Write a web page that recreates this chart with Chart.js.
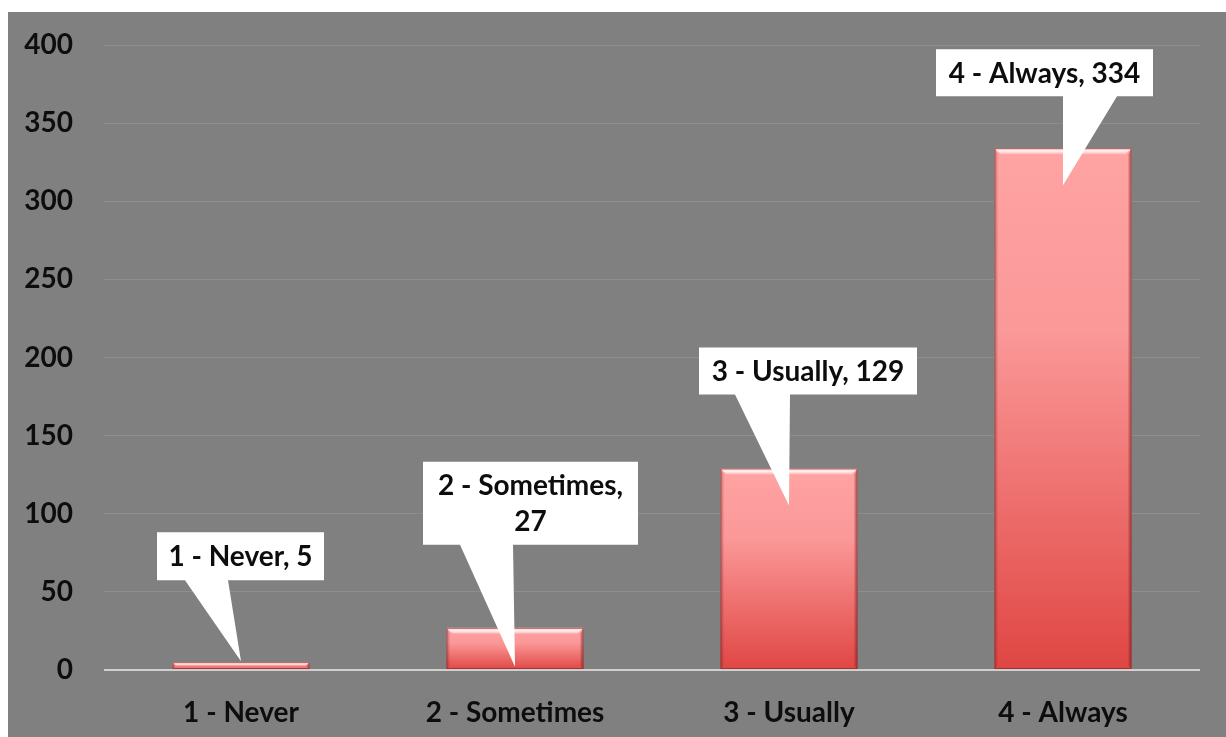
<!DOCTYPE html>
<html>
<head>
<meta charset="utf-8">
<script src="https://cdn.jsdelivr.net/npm/chart.js@4"></script>
<style>
  html, body { margin: 0; padding: 0; background: #ffffff; overflow: hidden; }
  #wrap { position: absolute; left: 8px; top: 12px; width: 1218px; height: 725px; background: #808080; }
</style>
</head>
<body>
<div id="wrap"><canvas id="c"></canvas></div>
<script>
const categories = ["1 - Never", "2 - Sometimes", "3 - Usually", "4 - Always"];
const counts = [5, 27, 129, 334];
const yTicks = [0, 50, 100, 150, 200, 250, 300, 350, 400];
const calloutLines = [
  ["1 - Never, 5"],
  ["2 - Sometimes,", "27"],
  ["3 - Usually, 129"],
  ["4 - Always, 334"]
];

const FONT = "Lato, 'Open Sans', sans-serif";
const FSIZE = 28;

// callout geometry (style offsets relative to bar centre / bar top)
const calloutStyle = [
  { tipDy: -1, left: -84, right: 83, top: -130, bottom: -82, b0: -56, b1: -13 },
  { tipDy: 39, left: -92, right: 123, top: -166, bottom: -83, b0: -55, b1: -2 },
  { tipDy: 37, left: -90, right: 128, top: -121, bottom: -74, b0: -54, b1: 1 },
  { tipDy: 37, left: -127, right: 90, top: -99, bottom: -52, b0: 0, b1: 54 }
];

function barGradient(ctx) {
  const chart = ctx.chart;
  const ys = chart.scales.y;
  if (!ys || ctx.dataIndex === undefined) return '#f07070';
  const v = ctx.dataset.data[ctx.dataIndex];
  const top = ys.getPixelForValue(v);
  const base = ys.getPixelForValue(0);
  if (!isFinite(top) || !isFinite(base) || base - top < 1) return '#f07070';
  const g = chart.ctx.createLinearGradient(0, top, 0, base);
  g.addColorStop(0, '#ffa3a3');
  g.addColorStop(0.35, '#fb9898');
  g.addColorStop(1, '#df4643');
  return g;
}

const bevelPlugin = {
  id: 'bevel',
  afterDatasetsDraw(chart) {
    const c = chart.ctx;
    const meta = chart.getDatasetMeta(0);
    meta.data.forEach((el) => {
      const x0 = el.x - el.width / 2, x1 = el.x + el.width / 2;
      const y0 = el.y, y1 = el.base;
      const h = y1 - y0;
      const b = Math.min(6, h / 2);
      c.save();
      c.beginPath();
      c.moveTo(x0, y0); c.lineTo(x1, y0); c.lineTo(x1 - b, y0 + b); c.lineTo(x0 + b, y0 + b); c.closePath();
      const hg = c.createLinearGradient(0, y0, 0, y0 + b);
      hg.addColorStop(0, 'rgba(255,255,255,0.35)');
      hg.addColorStop(0.5, 'rgba(255,255,255,0.85)');
      hg.addColorStop(1, 'rgba(255,255,255,0.2)');
      c.fillStyle = hg; c.fill();
      c.fillStyle = 'rgba(120,30,30,0.35)';
      c.beginPath();
      c.moveTo(x1, y0); c.lineTo(x1, y1); c.lineTo(x1 - 3, y1 - Math.min(3, b)); c.lineTo(x1 - 3, y0 + b); c.closePath(); c.fill();
      c.fillStyle = 'rgba(120,30,30,0.2)';
      c.beginPath();
      c.moveTo(x0, y0); c.lineTo(x0, y1); c.lineTo(x0 + 3, y1 - Math.min(3, b)); c.lineTo(x0 + 3, y0 + b); c.closePath(); c.fill();
      c.strokeStyle = 'rgba(110,40,40,0.6)';
      c.lineWidth = 1;
      c.strokeRect(x0 + 0.5, y0 + 0.5, x1 - x0 - 1, h - 1);
      c.restore();
    });
  }
};

const calloutPlugin = {
  id: 'callouts',
  afterDatasetsDraw(chart) {
    const c = chart.ctx;
    const meta = chart.getDatasetMeta(0);
    meta.data.forEach((el, i) => {
      const s = calloutStyle[i];
      const cx = el.x, ty = el.y;
      const L = cx + s.left, R = cx + s.right, T = ty + s.top, B = ty + s.bottom;
      c.save();
      c.fillStyle = '#ffffff';
      c.beginPath();
      c.moveTo(L, T); c.lineTo(R, T); c.lineTo(R, B);
      c.lineTo(cx + s.b1, B);
      c.lineTo(cx, ty + s.tipDy);
      c.lineTo(cx + s.b0, B);
      c.lineTo(L, B); c.closePath();
      c.fill();
      c.fillStyle = '#0d0d0d';
      c.font = 'bold ' + FSIZE + 'px ' + FONT;
      c.textAlign = 'center';
      c.textBaseline = 'middle';
      const lines = calloutLines[i];
      const lh = 36;
      const midY = (T + B) / 2 + 1;
      lines.forEach((ln, k) => {
        c.fillText(ln, (L + R) / 2, midY + (k - (lines.length - 1) / 2) * lh);
      });
      c.restore();
    });
  }
};

new Chart(document.getElementById('c'), {
  type: 'bar',
  data: {
    labels: categories,
    datasets: [{
      data: counts,
      backgroundColor: barGradient,
      borderWidth: 0,
      categoryPercentage: 1.0,
      barPercentage: 0.5
    }]
  },
  options: {
    responsive: true,
    maintainAspectRatio: false,
    animation: false,
    layout: { padding: { left: 0, right: 26, top: 33, bottom: 0 } },
    plugins: { legend: { display: false }, tooltip: { enabled: false } },
    scales: {
      x: {
        grid: { display: false, drawTicks: false },
        border: { display: false },
        ticks: { color: '#0d0d0d', font: { family: FONT, size: FSIZE, weight: 'bold' }, padding: 26 },
        afterFit(scale) { scale.height = 67; scale.paddingLeft = 0; scale.paddingRight = 0; }
      },
      y: {
        min: 0, max: 400,
        afterBuildTicks(scale) { scale.ticks = yTicks.map(v => ({ value: v })); },
        grid: {
          drawTicks: false,
          color: (ctx) => ctx.tick && ctx.tick.value === 0 ? '#cfcfcf' : '#8e8e8e',
          lineWidth: (ctx) => ctx.tick && ctx.tick.value === 0 ? 2 : 1
        },
        border: { display: false },
        ticks: { color: '#0d0d0d', font: { family: FONT, size: FSIZE, weight: 'bold' }, padding: 31 },
        afterFit(scale) { scale.width = 96; scale.paddingTop = 0; scale.paddingBottom = 0; }
      }
    }
  },
  plugins: [bevelPlugin, calloutPlugin]
});
</script>
</body>
</html>
